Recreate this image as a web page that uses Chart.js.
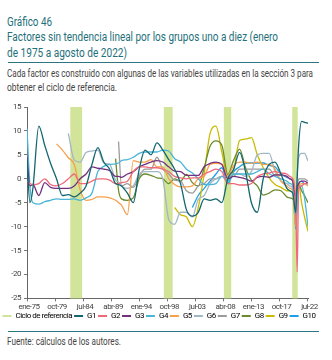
<!DOCTYPE html>
<html>
<head>
<meta charset="utf-8">
<script src="https://cdn.jsdelivr.net/npm/chart.js@4.4.0/dist/chart.umd.min.js"></script>
<style>
  body { margin: 0; width: 332px; height: 360px; background: #fff; position: relative; overflow: hidden;
         font-family: Roboto, sans-serif; }
  .t { position: absolute; left: 7px; white-space: nowrap; transform-origin: left top; }
  .title { color: #23707a; font-size: 12.5px; line-height: 16px; }
  .sub { color: #444; font-size: 10.5px; line-height: 13px; }
  .rule { position: absolute; left: 8px; width: 311px; height: 1px; background: #2d7580; }
  #chartBox { position: absolute; left: 0; top: 95px; }
</style>
</head>
<body>
<div class="t title" style="top:14.4px" data-w="45">Gráfico 46</div>
<div class="t title" style="top:29.4px" data-w="271">Factores sin tendencia lineal por los grupos uno a diez (enero</div>
<div class="t title" style="top:45px" data-w="120">de 1975 a agosto de 2022)</div>
<div class="rule" style="top:62px"></div>
<div class="t sub" style="top:66.6px" data-w="306">Cada factor es construido con algunas de las variables utilizadas en la sección 3 para</div>
<div class="t sub" style="top:80.9px" data-w="110">obtener el ciclo de referencia.</div>
<div id="chartBox"><canvas id="factorChart" width="332" height="235"></canvas></div>
<div class="rule" style="top:331px"></div>
<div class="t sub" style="top:334.9px" data-w="114">Fuente: cálculos de los autores.</div>

<script>
document.querySelectorAll('.t[data-w]').forEach(el => {
    const w = +el.dataset.w;
    el.style.transform = 'scaleX(' + (w / el.getBoundingClientRect().width) + ')';
});

const FONT = "Roboto, sans-serif";

// meses contados desde enero de 1975
const months = [
    0, 6, 12, 24, 36, 48, 60, 72, 84, 96,
    108, 120, 132, 144, 156, 168, 180, 186, 192, 204,
    216, 228, 240, 252, 264, 276, 288, 300, 312, 324,
    336, 348, 360, 372, 384, 396, 408, 420, 432, 444,
    456, 468, 480, 492, 504, 516, 528,
    534, 540, 546, 549, 552, 558, 564, 571
];

const tickMonths = [0, 57, 114, 171, 228, 285, 342, 399, 456, 513, 570];
const tickLabels = ['ene-75', 'oct-79', 'jul-84', 'abr-89', 'ene-94', 'oct-98', 'jul-03', 'abr-08', 'ene-13', 'oct-17', 'jul-22'];

// ciclo de referencia (inicio y fin, en meses)
const cycleStart = [88, 278, 400, 539];
const cycleEnd = [112, 296, 415, 550];

const g1 = [
    4, -5, -2, 11, 7, 3.2, 0, -3.5, -3.3, -3.8,
    -3, -1.5, 3, 6.5, 3.5, 2, -1, -1.2, -1.5, -3,
    -5, 2, 6, 5, 7.5, 6, 4, 2, -1, -6.5,
    -7.8, -7, -4.2, -4.5, -4.2, -5, 0, 2, 5.5, 1.5,
    -5, -7, 0, 3, 3.5, 1, -2,
    -2.5, -3, -7, 0, 7, 12, 11.8, 11.6
];
const g2 = [
    -0.5, -1, -1.2, -1, 0, -1.2, -1.5, -1, 0, 1,
    -1, -1, -0.5, 0, 0, -0.3, -1, -1, -0.8, -0.5,
    1.5, 2.5, 2.5, 2.3, 2.3, 2, 1.5, 0.5, 0.2, 0,
    0.2, 0.2, 1, 1.5, 2, 1.5, -1, -1, -1.3, -1.3,
    -1, 0.5, 1, 1.2, 1.5, 1.2, 1,
    0.5, 0, -5, -19.5, -2, -1.5, -1, -1
];
const g3 = [
    4.5, -1.5, -1.2, -3.5, -0.8, -1.8, -2, -2, -2, -1.5,
    0, 1, 2.5, 2.2, 2, 1.7, 0.5, 0.5, 0.3, 1,
    1.5, 2.5, 3, 3.5, 3.8, 3.5, 2.5, 1.6, 1.5, 0.7,
    0.7, 0.7, 2.5, 3.2, 3.5, 3, 0, 0.5, 0.3, 0,
    -0.5, 0.3, 0.5, 0.3, 0.8, 0.8, 0.5,
    0, -0.5, -4, -2, -1, -0.5, -0.5, -1
];
const g4 = [
    10.5, -1.5, -5, -5.3, -4.8, -4.5, -4.2, -4.3, -4.3, -4.2,
    -4.5, -4, -3, 1.5, 2.6, 3, 3.1, 3.3, 3.8, 4,
    4.5, 5.3, 5.6, 5.6, 5.6, 6, 5.8, 4.2, 3.5, 2,
    1.2, 0, -1.2, -1.2, -1, 0.5, -0.5, 1, 1, 1,
    1, 1.5, 2, 1, 0.5, 0, -0.5,
    -1, -1.5, -8, -4, -2, -1.5, -4, -10
];
const g5 = [
    null, null, null, null, null, null, 7.3, 6, 4.4, 3,
    -2.3, -4.5, -4.3, -3.8, -3.8, -4, -4.5, -5, -5.5, -7.5,
    3.8, 3.5, 3.5, 4, 2.5, 2.5, 0, -1.2, -1.7, -1.7,
    -1.5, 0, 0.5, 3, 3.2, 3, 0.6, 2.8, 3.5, 3.5,
    3.2, 3.5, 3, 3, 2, -0.5, -1.5,
    -2, -2.5, -10, -4, -1.5, -1, -1, -1.5
];
const g6 = [
    null, null, null, null, null, null, null, null, 9.5, 3.9,
    3.5, 5.5, 5.8, 6, 3.3, 3, -0.3, -0.7, -1.5, -2,
    -1.5, 1, 1.5, 1.5, 1.5, 0, -8.5, -9.5, -7, -7,
    -8, -4.3, -3.5, -1, 0, 0.5, 0.5, 1, 1, 0.5,
    1.5, 5, 5.3, 5.3, 1.5, -0.5, -1,
    -1.5, -2, -6, 1, 4.5, 5.3, 5.3, 3.7
];
const g7 = [
    null, null, null, null, null, null, null, null, null, null,
    null, null, null, null, null, null, null, 7.8, -1.5, -1,
    -1.8, 0.5, 2, 2, 4.5, 2, 1, -0.3, -0.5, -2.5,
    -3, -1.5, -1, 0, 0, 0.5, 0.5, 0.5, 2, 2,
    2, 2, 2, 2, 0.7, 0.7, 0.5,
    0, -0.5, -6, -2, 0, 0, 0, -0.5
];
const g8 = [
    null, null, null, null, null, null, null, null, null, null,
    null, null, null, null, null, null, 4.2, -2.4, -4.2, -4.5,
    -4, 0, 1, 0.7, 0.2, 0, -1, 0, -0.5, 0.9,
    -0.8, -1.5, 2.3, 6.8, 7.9, 7, 0.9, 3.9, 6.2, 2.3,
    -0.3, -1.5, -3.4, -3, -2.3, -2.5, -3.8,
    -4, -4.2, -5, -2, -1, -2.5, -3.5, -5
];
const g9 = [
    null, null, null, null, null, null, null, null, null, null,
    null, null, null, null, null, null, null, null, null, null,
    null, null, null, null, null, null, null, -6, -7.5, -8,
    -10, -6, 1, 9.5, 11, 5.5, 0.3, 2, 8, 8.3,
    8.6, 5, 2.3, 0.2, -1.2, -1.8, -2.5,
    -2.5, -3, -4, -1, -1, -5, -8, -11
];
const g10 = [
    null, null, null, null, null, null, null, null, null, null,
    null, null, null, null, null, null, null, null, null, null,
    null, null, null, null, null, null, null, null, null, null,
    -6, -3.5, -2, -0.5, 1, 2.3, -1, 1.5, 2.5, 3.3,
    3.3, 3.3, 3.3, 2.8, 2.5, 1, 0.3,
    0, -0.5, -10.5, -5.6, -1, -0.5, -1, -1
];

const seriesNames = ['G1', 'G2', 'G3', 'G4', 'G5', 'G6', 'G7', 'G8', 'G9', 'G10'];
const seriesValues = [g1, g2, g3, g4, g5, g6, g7, g8, g9, g10];
const seriesColors = ['#12666f', '#f0697a', '#74307e', '#4ab5d6', '#f7a04c',
                      '#a2b7c3', '#9b9b9b', '#6a8a2c', '#c8bb00', '#1d9fe6'];
const CYCLE_COLOR = '#d2e39a';

// tighter text on the canvas, the original uses a condensed face
const spacingPlugin = {
    id: 'spacing',
    beforeUpdate(chart) { chart.ctx.letterSpacing = '-0.5px'; },
    beforeDraw(chart) { chart.ctx.letterSpacing = '-0.5px'; }
};

const cyclePlugin = {
    id: 'cycles',
    beforeDatasetsDraw(chart) {
        const { ctx, chartArea, scales } = chart;
        ctx.save();
        ctx.fillStyle = CYCLE_COLOR;
        cycleStart.forEach((s, i) => {
            const x0 = scales.x.getPixelForValue(s);
            const x1 = scales.x.getPixelForValue(cycleEnd[i]);
            ctx.fillRect(x0, chartArea.top, x1 - x0, chartArea.bottom - chartArea.top);
        });
        ctx.restore();
    }
};

const datasets = seriesNames.map((name, k) => ({
    label: name,
    data: months.map((m, i) => ({ x: m, y: seriesValues[k][i] })),
    borderColor: seriesColors[k],
    backgroundColor: seriesColors[k],
    borderWidth: 1.3,
    pointRadius: 0,
    cubicInterpolationMode: 'monotone',
    spanGaps: false,
}));

const config = {
    type: 'line',
    data: { datasets: datasets },
    options: {
        responsive: false,
        animation: false,
        layout: { padding: { left: 0, right: 14, top: 12, bottom: 0 } },
        plugins: {
            tooltip: { enabled: false },
            legend: {
                position: 'bottom',
                labels: {
                    boxWidth: 9,
                    boxHeight: 2,
                    padding: 2,
                    color: '#444',
                    font: { family: FONT, size: 8 },
                    generateLabels: (chart) => {
                        const items = chart.data.datasets.map((d, i) => ({
                            text: d.label,
                            fillStyle: d.borderColor,
                            strokeStyle: d.borderColor,
                            lineWidth: 0,
                            hidden: false,
                            datasetIndex: i,
                        }));
                        items.unshift({
                            text: 'Ciclo de referencia',
                            fillStyle: CYCLE_COLOR,
                            strokeStyle: CYCLE_COLOR,
                            lineWidth: 0,
                            hidden: false,
                        });
                        return items;
                    },
                },
            },
        },
        scales: {
            x: {
                type: 'linear',
                min: 0,
                max: 571,
                afterBuildTicks: (scale) => {
                    scale.ticks = tickMonths.map(v => ({ value: v }));
                },
                afterFit: (scale) => { scale.height -= 3; },
                ticks: {
                    autoSkip: false,
                    maxRotation: 0,
                    padding: 1,
                    labelOffset: 2,
                    color: '#444',
                    font: { family: FONT, size: 8 },
                    callback: (v) => tickLabels[tickMonths.indexOf(v)],
                },
                grid: { drawOnChartArea: false, tickLength: 3, color: '#777' },
                border: { color: '#666' },
            },
            y: {
                min: -25,
                max: 15,
                afterFit: (scale) => { scale.width = 27; },
                ticks: {
                    stepSize: 5,
                    padding: 3,
                    color: '#444',
                    font: { family: FONT, size: 8 },
                },
                grid: { drawOnChartArea: false, tickLength: 3, color: '#777' },
                border: { color: '#666' },
            },
            // empty right axis, only keeps the plot off the right edge
            yRight: {
                position: 'right',
                display: true,
                afterFit: (scale) => { scale.width = 10; },
                ticks: { display: false },
                grid: { display: false },
                border: { display: false },
            },
        },
    },
    plugins: [spacingPlugin, cyclePlugin],
};

const ctx = document.getElementById('factorChart').getContext('2d');
new Chart(ctx, config);
</script>
</body>
</html>
